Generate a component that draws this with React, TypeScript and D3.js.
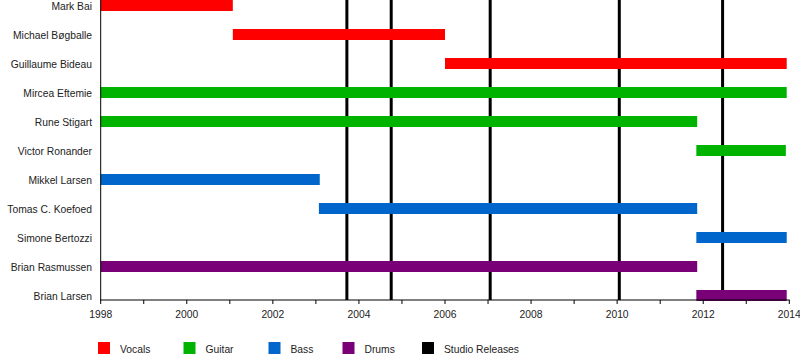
import React from "react";
import * as d3 from "d3";

const members = [
  "Mark Bai",
  "Michael Bøgballe",
  "Guillaume Bideau",
  "Mircea Eftemie",
  "Rune Stigart",
  "Victor Ronander",
  "Mikkel Larsen",
  "Tomas C. Koefoed",
  "Simone Bertozzi",
  "Brian Rasmussen",
  "Brian Larsen",
];
const roles = ["Vocals", "Vocals", "Vocals", "Guitar", "Guitar", "Guitar", "Bass", "Bass", "Bass", "Drums", "Drums"];
const starts = [1998, 2001.07, 2006.0, 1998, 1998, 2011.84, 1998, 2003.07, 2011.84, 1998, 2011.84];
const ends = [2001.07, 2006.0, 2013.94, 2013.94, 2011.86, 2013.92, 2003.09, 2011.86, 2013.94, 2011.86, 2013.94];
const releases = [2003.72, 2004.75, 2007.05, 2010.05, 2012.45];
const legendLabels = ["Vocals", "Guitar", "Bass", "Drums", "Studio Releases"];
const legendColors = ["#ff0000", "#00b300", "#0066cc", "#7a0077", "#000000"];
const legendX = [98, 183.5, 268.5, 342.5, 422];
const yearTicks = d3.range(1998, 2015, 1);
const labelTicks = d3.range(1998, 2015, 2);

const colorOf = d3.scaleOrdinal<string, string>().domain(legendLabels).range(legendColors);

export default function App() {
  const x = d3.scaleLinear().domain([1998, 2014]).range([100.7, 789.3]);
  const y = d3.scaleBand<string>().domain(members).range([0, 319]).padding(0);
  const barH = 11;
  const axisY = 300;
  const font = "'Liberation Sans', Arial, sans-serif";
  return (
    <svg width={800} height={360} style={{ position: "absolute", left: 0, top: 0, background: "#fff" }}>
      {releases.map((r, i) => (
        <line key={"r" + i} x1={x(r)} x2={x(r)} y1={0} y2={axisY} stroke="#000" strokeWidth={3} />
      ))}
      {members.map((m, i) => (
        <rect
          key={"b" + i}
          x={x(starts[i])}
          y={y(m)!}
          width={x(ends[i]) - x(starts[i])}
          height={barH}
          fill={colorOf(roles[i])}
        />
      ))}
      {members.map((m, i) => (
        <text
          key={"l" + i}
          x={92}
          y={y(m)! + barH / 2 + 1.5}
          textAnchor="end"
          dominantBaseline="middle"
          fontFamily={font}
          fontSize={10.3}
          fill="#222"
        >
          {m}
        </text>
      ))}
      <line x1={100.7} x2={100.7} y1={0} y2={axisY} stroke="#000" strokeWidth={1} />
      <line x1={100.2} x2={x(2014) + 0.5} y1={axisY} y2={axisY} stroke="#000" strokeWidth={1} />
      {yearTicks.map((t) => (
        <line key={"t" + t} x1={x(t)} x2={x(t)} y1={axisY} y2={axisY + 4} stroke="#000" strokeWidth={1} />
      ))}
      {labelTicks.map((t) => (
        <text
          key={"tl" + t}
          x={x(t)}
          y={315}
          textAnchor="middle"
          dominantBaseline="middle"
          fontFamily={font}
          fontSize={10.3}
          fill="#222"
        >
          {t}
        </text>
      ))}
      {legendLabels.map((l, i) => (
        <g key={"lg" + i}>
          <rect x={legendX[i]} y={342} width={12} height={12} fill={legendColors[i]} />
          <text
            x={legendX[i] + 22}
            y={350}
            dominantBaseline="middle"
            fontFamily={font}
            fontSize={10.3}
            fill="#222"
          >
            {l}
          </text>
        </g>
      ))}
    </svg>
  );
}
